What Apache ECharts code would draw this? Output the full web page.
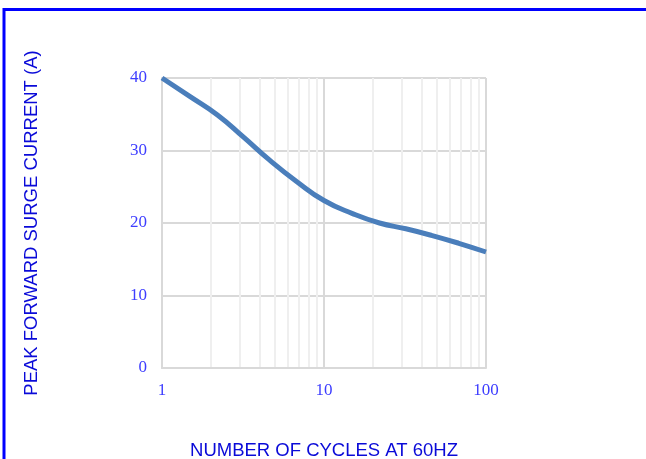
<!DOCTYPE html>
<html>
<head>
<meta charset="utf-8">
<script src="https://cdn.jsdelivr.net/npm/echarts@6/dist/echarts.min.js"></script>
<style>
html,body{margin:0;padding:0;background:#fff;}
#c{width:646px;height:459px;}
</style>
</head>
<body>
<div id="c"></div>
<script>
var cycles = [1, 1.5, 2.2, 3.2, 4.6, 6.8, 10, 15, 22, 32, 46, 68, 100];
var current = [40, 37.4, 34.9, 31.8, 28.7, 25.7, 23.1, 21.3, 20.0, 19.2, 18.3, 17.2, 16.0];
var minorX = [2, 3, 4, 5, 6, 7, 8, 9, 20, 30, 40, 50, 60, 70, 80, 90];
var xTitle = 'NUMBER OF CYCLES AT 60HZ';
var yTitle = 'PEAK FORWARD SURGE CURRENT (A)';

var chart = echarts.init(document.getElementById('c'), null, {renderer: 'canvas'});
var tickFont = {color: '#3d3dff', fontFamily: '"Liberation Serif", "Times New Roman", serif', fontSize: 17};
var nameFont = {color: '#0a0ad8', fontFamily: '"Liberation Sans", Arial, sans-serif', fontSize: 18.5};

chart.setOption({
  animation: false,
  backgroundColor: '#ffffff',
  graphic: [{
    type: 'rect',
    shape: {x: 4, y: 9.5, width: 700, height: 600},
    style: {fill: 'none', stroke: '#0000ff', lineWidth: 3},
    silent: true
  }],
  grid: {left: 162, right: 160, top: 78, bottom: 91, containLabel: false, outerBoundsMode: 'none'},
  xAxis: {
    type: 'log',
    logBase: 10,
    min: 1,
    max: 100,
    name: xTitle,
    nameLocation: 'middle',
    nameGap: 73,
    nameTextStyle: nameFont,
    axisLine: {lineStyle: {color: '#d9d9d9', width: 2}},
    axisTick: {show: false},
    axisLabel: Object.assign({margin: 14}, tickFont),
    splitLine: {show: true, lineStyle: {color: '#d9d9d9', width: 2}}
  },
  yAxis: {
    type: 'value',
    min: 0,
    max: 40,
    interval: 10,
    name: yTitle,
    nameLocation: 'middle',
    nameGap: 121,
    nameTextStyle: nameFont,
    axisLine: {show: true, lineStyle: {color: '#d9d9d9', width: 2}},
    axisTick: {show: false},
    axisLabel: Object.assign({margin: 15}, tickFont),
    splitLine: {show: true, lineStyle: {color: '#d9d9d9', width: 2}}
  },
  series: [{
    type: 'line',
    data: [],
    z: 0,
    silent: true,
    markLine: {
      z: 0,
      silent: true,
      symbol: ['none', 'none'],
      label: {show: false},
      lineStyle: {color: '#efefef', width: 2, type: 'solid'},
      data: minorX.map(function (v) { return {xAxis: v}; })
    }
  }, {
    type: 'line',
    data: cycles.map(function (c, i) { return [c, current[i]]; }),
    smooth: 0.5,
    showSymbol: false,
    lineStyle: {color: '#4a7ebb', width: 5},
    z: 10
  }]
});
</script>
</body>
</html>
